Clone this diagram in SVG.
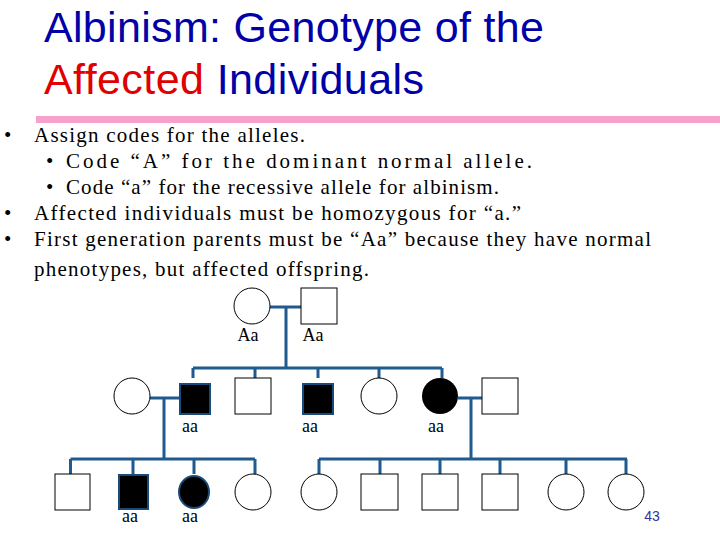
<svg xmlns="http://www.w3.org/2000/svg" width="720" height="540" viewBox="0 0 720 540">
<style>
.t{font-family:"Liberation Sans",Arial,sans-serif;font-size:43px;fill:#0000A8}
.b{font-family:"Liberation Serif","Times New Roman",serif;font-size:21px;fill:#000}
.g{font-family:"Liberation Serif","Times New Roman",serif;font-size:18px;fill:#000;text-anchor:middle}
.n{fill:#fff;stroke:#000;stroke-width:1}
.a{fill:#000;stroke:#1a4a7a;stroke-width:2}
.c{stroke:#1f5b8e;stroke-width:3;fill:none}
</style>
<rect width="720" height="540" fill="#fff"/>
<text class="t" x="44" y="42" textLength="500">Albinism: Genotype of the</text>
<text class="t" x="44" y="94" textLength="380"><tspan fill="#E00000">Affected</tspan> Individuals</text>
<rect x="36" y="116" width="684" height="7" fill="#F8A0CC"/>
<g class="b">
<text x="4" y="142">•</text><text x="34" y="142" textLength="271">Assign codes for the alleles.</text>
<text x="46" y="168">•</text><text x="66" y="168" textLength="466">Code “A” for the dominant normal allele.</text>
<text x="46" y="194">•</text><text x="66" y="194" textLength="433">Code “a” for the recessive allele for albinism.</text>
<text x="4" y="220">•</text><text x="34" y="220" textLength="487">Affected individuals must be homozygous for “a.”</text>
<text x="4" y="246">•</text><text x="34" y="246" textLength="617">First generation parents must be “Aa” because they have normal</text>
<text x="34" y="276" textLength="335">phenotypes, but affected offspring.</text>
</g>
<g id="connectors" class="c">
<path d="M270 307H301M286 307V368M193 368H442M193 368V378M255 368V378M318 368V378M379 368V378M442 368V378"/>
<path d="M150 398H179M164 398V459M70.5 459H255M70.5 459V474M133 459V474M194 459V474M255 459V474"/>
<path d="M458 398H482M471 398V459M319 459H627M319 459V474M380 459V474M440 459V474M500 459V474M566 459V474M626 459V474"/>
</g>
<g id="p1"><ellipse class="n" cx="252" cy="306" rx="18" ry="18"/><text class="g" x="248" y="341">Aa</text></g>
<g id="p2"><rect class="n" x="301" y="288" width="36" height="36"/><text class="g" x="313" y="341">Aa</text></g>
<g id="g2a"><ellipse class="n" cx="132" cy="396" rx="18" ry="18"/></g>
<g id="g2b"><rect class="a" x="180" y="384" width="30" height="30"/><text class="g" x="190" y="432">aa</text></g>
<g id="g2c"><rect class="n" x="235" y="378" width="36" height="36"/></g>
<g id="g2d"><rect class="a" x="303" y="384" width="30" height="30"/><text class="g" x="310" y="432">aa</text></g>
<g id="g2e"><ellipse class="n" cx="379" cy="396" rx="18" ry="18"/></g>
<g id="g2f"><ellipse fill="#000" cx="440" cy="396" rx="18" ry="18"/><text class="g" x="436" y="432">aa</text></g>
<g id="g2g"><rect class="n" x="482" y="378" width="36" height="36"/></g>
<g id="g3a"><rect class="n" x="55" y="474" width="35" height="36"/></g>
<g id="g3b"><rect class="a" x="119" y="475" width="29" height="34"/><text class="g" x="130" y="522">aa</text></g>
<g id="g3c"><ellipse class="a" cx="194" cy="492" rx="15" ry="16"/><text class="g" x="190" y="522">aa</text></g>
<g id="g3d"><ellipse class="n" cx="253" cy="492" rx="18" ry="18"/></g>
<g id="g3e"><ellipse class="n" cx="319" cy="492" rx="18" ry="18"/></g>
<g id="g3f"><rect class="n" x="361" y="474" width="37" height="36"/></g>
<g id="g3g"><rect class="n" x="422" y="474" width="36" height="36"/></g>
<g id="g3h"><rect class="n" x="482" y="474" width="36" height="36"/></g>
<g id="g3i"><ellipse class="n" cx="566" cy="492" rx="18" ry="18"/></g>
<g id="g3j"><ellipse class="n" cx="626" cy="492" rx="18" ry="18"/></g>
<text x="652" y="521" font-family="Liberation Sans,Arial,sans-serif" font-size="14" fill="#333399" text-anchor="middle">43</text>
</svg>
